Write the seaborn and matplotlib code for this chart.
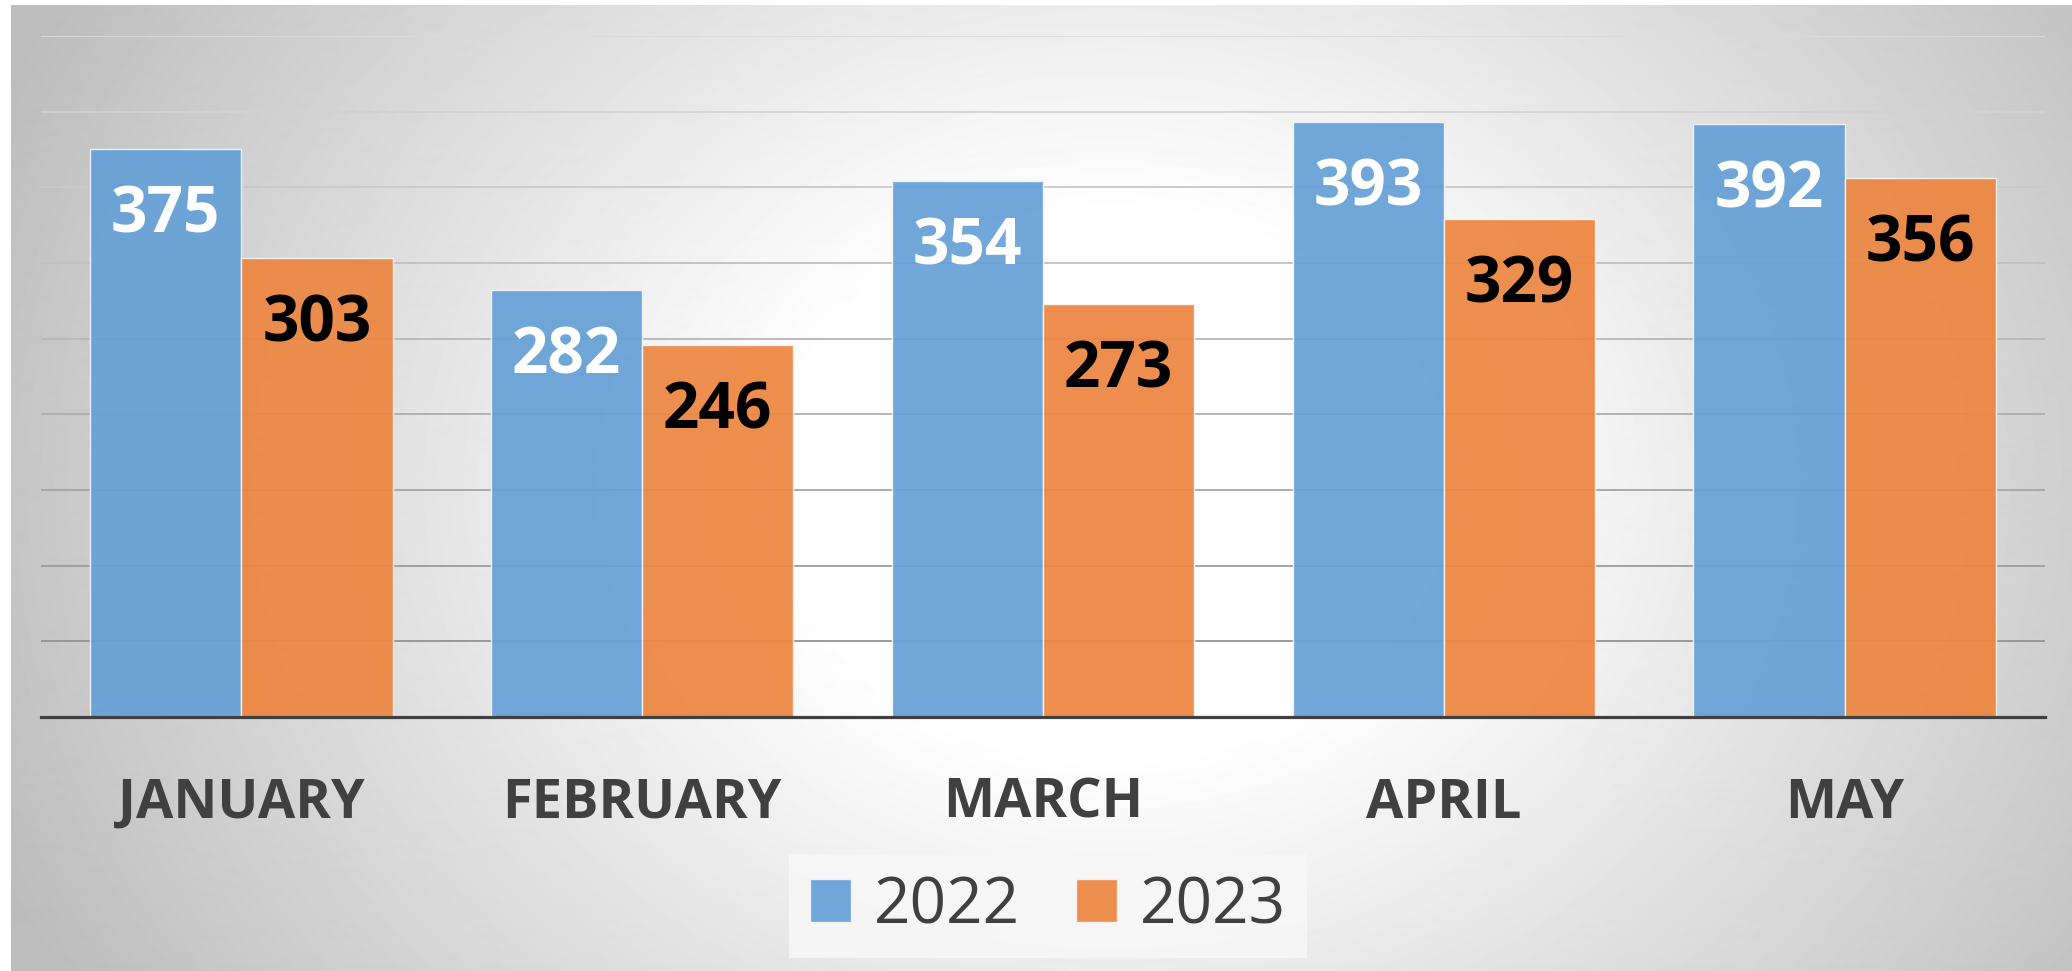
import numpy as np
import pandas as pd
import matplotlib
matplotlib.use("Agg")
import matplotlib.pyplot as plt
import seaborn as sns

# ---------------------------------
# Data
# ---------------------------------

months = ["JANUARY", "FEBRUARY", "MARCH", "APRIL", "MAY"]
years = ["2022", "2023"]
values_2022 = [375, 282, 354, 393, 392]
values_2023 = [303, 246, 273, 329, 356]

df = pd.DataFrame({
    "month": months * 2,
    "year": [years[0]] * len(months) + [years[1]] * len(months),
    "value": values_2022 + values_2023,
})

palette = {"2022": "#66A0D6", "2023": "#EC8640"}
label_colors = {"2022": "white", "2023": "black"}

# ---------------------------------
# Figure + gradient background
# ---------------------------------

sns.set_style("white")
plt.rcParams["font.family"] = ["Open Sans", "DejaVu Sans"]

W, H = 2072, 971
fig = plt.figure(figsize=(W / 100, H / 100), dpi=100)
fig.patch.set_facecolor("white")

bg = fig.add_axes([11 / W, 0, 1 - 11 / W, 1 - 5 / H])
yy, xx = np.mgrid[0:966, 0:2061]
r = np.sqrt(((xx - 1100) / 1100) ** 2 + ((yy - 480) / 900) ** 2)
shade = 1 - 0.26 * np.clip((r - 0.3) / 0.8, 0, 1)
bg.imshow(shade, cmap="gray", vmin=0, vmax=1, aspect="auto",
          interpolation="bilinear")
bg.axis("off")
bg.set_zorder(0)

ax = fig.add_axes([41 / W, 1 - 717 / H, (2045 - 41) / W, (717 - 36) / H])
ax.set_zorder(1)
ax.patch.set_alpha(0)

# ---------------------------------
# Bars
# ---------------------------------

sns.barplot(
    data=df,
    x="month",
    y="value",
    hue="year",
    palette=palette,
    saturation=1,
    width=0.754,
    edgecolor="#F4F4F4",
    linewidth=1.0,
    alpha=0.93,
    ax=ax,
)

ax.set_xlim(-0.5, 4.5)
ax.set_ylim(0, 450)
ax.set_yticks(np.arange(0, 451, 50))
ax.set_yticklabels([])
ax.set_axisbelow(True)
ax.grid(axis="y", linewidth=1.3)
for tick_val, gl in zip(ax.get_yticks(), ax.get_ygridlines()):
    level = 0.86 - 0.32 * (1 - tick_val / 450)
    gl.set_color((level, level, level))
ax.grid(axis="x", visible=False)

ax.set_xlabel("")
ax.set_ylabel("")
ax.tick_params(axis="both", length=0)
ax.tick_params(axis="x", pad=43, labelsize=39, labelcolor="#404040")
for lbl in ax.get_xticklabels():
    lbl.set_fontweight("bold")

for side in ["top", "left", "right"]:
    ax.spines[side].set_visible(False)
ax.spines["bottom"].set_color("#404040")
ax.spines["bottom"].set_linewidth(2.3)

# ---------------------------------
# Value labels inside bars
# ---------------------------------

for container, yr in zip(ax.containers, years):
    for bar in container:
        h = bar.get_height()
        ax.annotate(
            f"{h:.0f}",
            (bar.get_x() + bar.get_width() / 2, h),
            xytext=(0, -60),
            textcoords="offset points",
            ha="center",
            va="baseline",
            fontsize=46,
            fontweight="bold",
            color=label_colors[yr],
        )

# ---------------------------------
# Legend
# ---------------------------------

handles, labels = ax.get_legend_handles_labels()
ax.legend_.remove()
leg = fig.legend(
    handles,
    labels,
    loc="center",
    bbox_to_anchor=(1048 / W, 1 - 906 / H),
    ncol=2,
    fontsize=46,
    frameon=True,
    fancybox=False,
    facecolor="#F7F7F7",
    edgecolor="none",
    framealpha=0.9,
    handlelength=0.64,
    handleheight=0.64,
    handletextpad=0.36,
    columnspacing=0.88,
    borderpad=0.32,
    borderaxespad=0,
)
for t in leg.get_texts():
    t.set_color("#404040")

plt.savefig("out.png", dpi=100)
